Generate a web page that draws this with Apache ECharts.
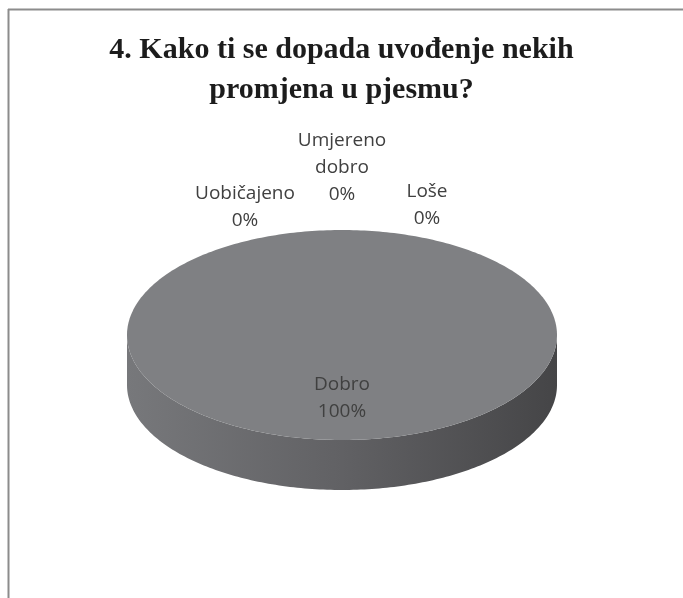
<!DOCTYPE html>
<html>
<head>
<meta charset="utf-8">
<script src="https://cdn.jsdelivr.net/npm/echarts@6/dist/echarts.min.js"></script>
<style>
html, body {margin: 0; padding: 0; background: #fff;}
#contain {width: 683px; height: 598px;}
</style>
</head>
<body>
<div id="contain"></div>
<script>
var titleText = '4. Kako ti se dopada uvođenje nekih\npromjena u pjesmu?';
var categories = ['Dobro', 'Loše', 'Umjereno dobro', 'Uobičajeno'];
var percents = [100, 0, 0, 0];

// where the empty slices put their labels, relative to the top of the pie
var zeroLabelOffset = [null, [85, -25], [0, -62], [-97, -23]];

var pie = {cx: 342, cy: 335, rx: 215, ry: 105, depth: 50};

function arcPoints(a0, a1, dy) {
    var pts = [];
    var n = Math.max(2, Math.ceil(Math.abs(a1 - a0) / (Math.PI / 180)));
    for (var i = 0; i <= n; i++) {
        var a = a0 + (a1 - a0) * i / n;
        pts.push([pie.cx + pie.rx * Math.cos(a), pie.cy + dy + pie.ry * Math.sin(a)]);
    }
    return pts;
}

function renderSlice(params, api) {
    var idx = params.dataIndex;
    var total = 0;
    for (var i = 0; i < percents.length; i++) total += percents[i];
    var before = 0;
    for (var j = 0; j < idx; j++) before += percents[j];
    var val = api.value(0);
    var s = -Math.PI / 2 + before / total * Math.PI * 2;
    var e = s + val / total * Math.PI * 2;
    var children = [];
    var font = '19px "Open Sans"';
    var label = categories[idx].replace(' ', '\n') + '\n' + val + '%';

    if (val > 0) {
        var full = (e - s) >= Math.PI * 2 - 1e-6;
        // side wall, only the front half is visible
        var ranges = [[0, Math.PI], [2 * Math.PI, 3 * Math.PI], [-2 * Math.PI, -Math.PI]];
        ranges.forEach(function (r) {
            var a0 = Math.max(s, r[0]), a1 = Math.min(e, r[1]);
            if (a1 <= a0) return;
            var pts = arcPoints(a0, a1, 0).concat(arcPoints(a1, a0, pie.depth));
            children.push({
                type: 'polygon',
                shape: {points: pts},
                style: {
                    fill: {
                        type: 'linear', global: true,
                        x: pie.cx - pie.rx, y: 0, x2: pie.cx + pie.rx, y2: 0,
                        colorStops: [
                            {offset: 0, color: '#77787b'},
                            {offset: 0.5, color: '#616164'},
                            {offset: 1, color: '#454547'}
                        ]
                    }
                }
            });
        });
        var top = arcPoints(s, e, 0);
        if (!full) top.unshift([pie.cx, pie.cy]);
        children.push({
            type: 'polygon',
            shape: {points: top},
            style: {fill: '#7f8083'}
        });
        var mid = (s + e) / 2;
        children.push({
            type: 'text',
            style: {
                text: label,
                x: pie.cx + 0.6 * pie.rx * Math.cos(mid),
                y: pie.cy + 0.6 * pie.ry * Math.sin(mid),
                align: 'center', verticalAlign: 'middle',
                font: font, lineHeight: 27, fill: '#404040'
            },
            z2: 10
        });
    } else {
        var off = zeroLabelOffset[idx] || [0, -40];
        children.push({
            type: 'text',
            style: {
                text: label,
                x: pie.cx + off[0],
                y: pie.cy - pie.ry + off[1],
                align: 'center', verticalAlign: 'middle',
                font: font, lineHeight: 27, fill: '#404040'
            },
            z2: 10
        });
    }
    return {type: 'group', children: children};
}

var myChart = echarts.init(document.getElementById('contain'));
var option = {
    animation: false,
    backgroundColor: '#fff',
    title: {
        text: titleText,
        left: 'center',
        top: 25,
        textStyle: {
            fontFamily: '"Liberation Serif", "DejaVu Serif", serif',
            fontWeight: 'bold',
            fontSize: 30,
            lineHeight: 40,
            color: '#1c1c1c'
        }
    },
    graphic: [
        {type: 'line', shape: {x1: 8, y1: 9.5, x2: 683, y2: 9.5}, style: {stroke: '#8c8c8c', lineWidth: 2}},
        {type: 'line', shape: {x1: 8.5, y1: 9, x2: 8.5, y2: 598}, style: {stroke: '#8c8c8c', lineWidth: 2}}
    ],
    series: [
        {
            type: 'custom',
            coordinateSystem: 'none',
            renderItem: renderSlice,
            data: percents.map(function (v) { return [v]; })
        }
    ]
};
myChart.setOption(option);
</script>
</body>
</html>
